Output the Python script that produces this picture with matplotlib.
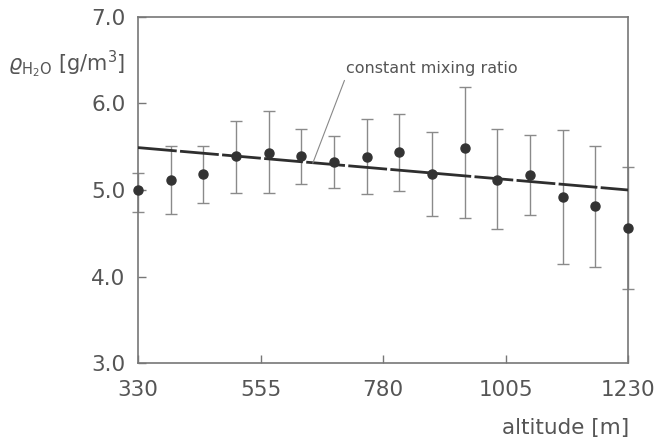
import matplotlib.pyplot as plt

# altitude [m] and water vapour density [g/m3]
altitude = [330, 390, 450, 510, 570, 630, 690, 750, 810, 870, 930, 990, 1050, 1110, 1170, 1230]
rho = [5.00, 5.12, 5.18, 5.39, 5.43, 5.39, 5.32, 5.38, 5.44, 5.19, 5.49, 5.12, 5.17, 4.92, 4.82, 4.56]
err_top = [5.20, 5.51, 5.51, 5.80, 5.91, 5.71, 5.62, 5.82, 5.88, 5.67, 6.19, 5.70, 5.63, 5.69, 5.51, 5.27]
err_bot = [4.75, 4.72, 4.85, 4.97, 4.96, 5.07, 5.02, 4.95, 4.99, 4.70, 4.68, 4.55, 4.71, 4.14, 4.11, 3.86]

# constant mixing ratio line (end points)
line_alt = [330, 1230]
line_rho = [5.49, 5.00]

xticks = [330, 555, 780, 1005, 1230]
yticks = [3.0, 4.0, 5.0, 6.0, 7.0]

grey = '#555555'
plt.rcParams['font.family'] = 'DejaVu Sans'

fig = plt.figure(figsize=(6.57, 4.46), dpi=100)
ax = fig.add_axes([0.210, 0.186, 0.746, 0.776])

yerr = [[r - b for r, b in zip(rho, err_bot)], [t - r for t, r in zip(err_top, rho)]]
ax.errorbar(altitude, rho, yerr=yerr, fmt='none', ecolor='#8a8a8a', elinewidth=1.0,
            capsize=4, capthick=1.0, clip_on=False, zorder=2)
ax.plot(line_alt, line_rho, color='#2e2e2e', lw=2.0, linestyle=(0, (14, 1.2)), zorder=3)
ax.plot(altitude, rho, 'o', color='#333333', markersize=6.5, clip_on=False, zorder=4)

ax.annotate('constant mixing ratio', xy=(651, 5.31), xytext=(712, 6.40),
            fontsize=11.5, color=grey, va='center', ha='left',
            arrowprops=dict(arrowstyle='-', color='#888888', lw=0.8, shrinkA=1, shrinkB=0,
                            relpos=(0.0, 0.0)))

ax.set_xlim(330, 1230)
ax.set_ylim(3.0, 7.0)
ax.set_xticks(xticks)
ax.set_xticklabels([str(v) for v in xticks])
ax.set_yticks(yticks)
ax.set_yticklabels(['%.1f' % v for v in yticks])
ax.tick_params(direction='in', length=6, width=1, colors='#777777', labelcolor=grey,
               labelsize=15.5)
ax.tick_params(axis='x', pad=12)
ax.tick_params(axis='y', pad=9)
for s in ax.spines.values():
    s.set_color('#777777')
    s.set_linewidth(1.2)

fig.text(0.012, 0.855, r'$\varrho_{\mathrm{H_2O}}$ [g/m$^3$]', fontsize=15, color=grey,
         ha='left', va='center')
fig.text(0.958, 0.04, 'altitude [m]', fontsize=15.5, color=grey, ha='right', va='center')

fig.savefig('out.png', dpi=100)
